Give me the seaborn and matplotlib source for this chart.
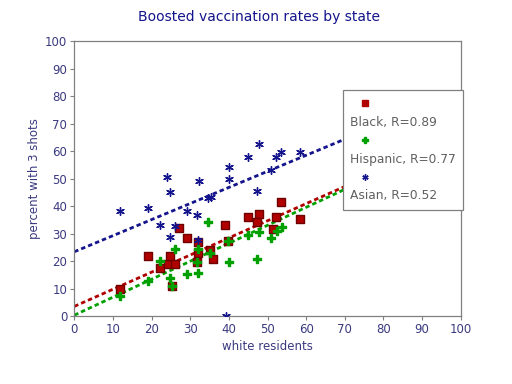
import numpy as np
import pandas as pd
import seaborn as sns
import matplotlib
matplotlib.use("Agg")
import matplotlib.pyplot as plt
from matplotlib.lines import Line2D

sns.set_style("white")
plt.rcParams["font.family"] = ["DejaVu Sans"]

# values (percent white residents vs percent with 3 shots)
black_x = [11.8, 19.1, 22.2, 24.3, 26.0, 24.7, 25.2, 27.1, 29.1, 32.1, 32.1, 31.7,
           35.0, 36.0, 39.0, 39.8, 45.0, 47.8, 47.4, 51.3, 52.2, 53.6, 58.4]
black_y = [9.7, 21.7, 17.4, 19.0, 19.0, 21.7, 11.1, 31.9, 28.6, 27.0, 22.8, 19.8,
           24.2, 20.8, 33.1, 27.3, 36.0, 37.1, 34.3, 31.6, 35.9, 41.4, 35.2]

hisp_x = [11.8, 19.1, 22.2, 24.9, 25.2, 26.0, 29.1, 32.1, 32.1, 31.7, 34.5, 35.0,
          39.8, 40.1, 45.0, 47.8, 47.4, 51.0, 52.4, 53.7]
hisp_y = [7.4, 12.7, 20.1, 13.9, 11.0, 24.3, 15.2, 15.8, 24.3, 19.8, 34.3, 22.8,
          27.4, 19.8, 29.5, 30.7, 20.6, 28.3, 30.9, 32.4]

asian_x = [11.8, 19.1, 22.2, 23.9, 24.7, 24.7, 26.0, 29.1, 31.7, 32.2, 32.1, 34.7,
           35.5, 40.1, 40.1, 45.0, 47.8, 47.4, 51.0, 52.3, 53.6, 58.4, 39.2]
asian_y = [38.3, 39.2, 33.1, 50.7, 45.3, 28.7, 32.8, 38.3, 36.8, 49.1, 27.8, 43.1,
           43.3, 54.3, 49.8, 58.0, 62.6, 45.5, 53.1, 57.8, 59.6, 59.6, 0.0]

# trend lines as drawn in the picture: value at x=0 and x=100
fit_x = [0, 100]
black_fit = [3.5, 65.9]
hisp_fit = [0.3, 65.8]
asian_fit = [23.4, 82.0]

groups = ["Black", "Hispanic", "Asian"]
r_values = [0.89, 0.77, 0.52]
colors = ["#b00000", "#00a000", "#14148c"]
markers = ["s", "P", (6, 2, 0)]
sizes = [26, 30, 30]
xs = [black_x, hisp_x, asian_x]
ys = [black_y, hisp_y, asian_y]
fits = [black_fit, hisp_fit, asian_fit]

fig = plt.figure(figsize=(5.12, 3.84), dpi=100)
ax = fig.add_axes([0.145, 0.177, 0.755, 0.715])

for x, y, f, c, m, s in zip(xs, ys, fits, colors, markers, sizes):
    sns.scatterplot(x=x, y=y, ax=ax, marker=m, s=s, color=c, linewidth=1,
                    edgecolor="#700000" if m == "s" else c, zorder=3)
    sns.lineplot(x=fit_x, y=f, ax=ax, color=c, lw=2, dashes=False, zorder=2,
                 linestyle=(0, (1.6, 1.1)))

ax.set_xlim(0, 100)
ax.set_ylim(0, 100)
ax.set_xticks(range(0, 101, 10))
ax.set_yticks(range(0, 101, 10))
lab_color = "#3a3a80"
ax.tick_params(axis="both", direction="out", length=3, width=0.8, color="#808080",
               labelsize=8.5, labelcolor=lab_color, pad=2, bottom=True, left=True)
for sp in ax.spines.values():
    sp.set_color("#808080")
    sp.set_linewidth(0.9)
ax.set_xlabel("white residents", fontsize=8.5, color=lab_color, labelpad=3)
ax.set_ylabel("percent with 3 shots", fontsize=8.5, color=lab_color, labelpad=3)
fig.text(0.505, 0.957, "Boosted vaccination rates by state", ha="center", va="center",
         fontsize=10, color="#14148c")

handles, labels = [], []
for g, r, c, m in zip(groups, r_values, colors, markers):
    handles.append(Line2D([], [], ls="", marker=m, color=c, markersize=4.5,
                          markeredgecolor=c, markeredgewidth=1))
    labels.append("")
    handles.append(Line2D([], [], ls=""))
    labels.append(f"{g}, R={r:.2f}")
leg = ax.legend(handles, labels, loc="upper left", bbox_to_anchor=(0.695, 0.823),
                borderaxespad=0, fancybox=False, framealpha=1, fontsize=8.8,
                handlelength=2.4, handletextpad=-2.4, labelspacing=0.44,
                borderpad=0.6)
leg.set_zorder(5)
leg.get_frame().set_edgecolor("#808080")
leg.get_frame().set_linewidth(0.9)
for t in leg.get_texts():
    t.set_color("#606060")

fig.savefig("out.png", dpi=100)
